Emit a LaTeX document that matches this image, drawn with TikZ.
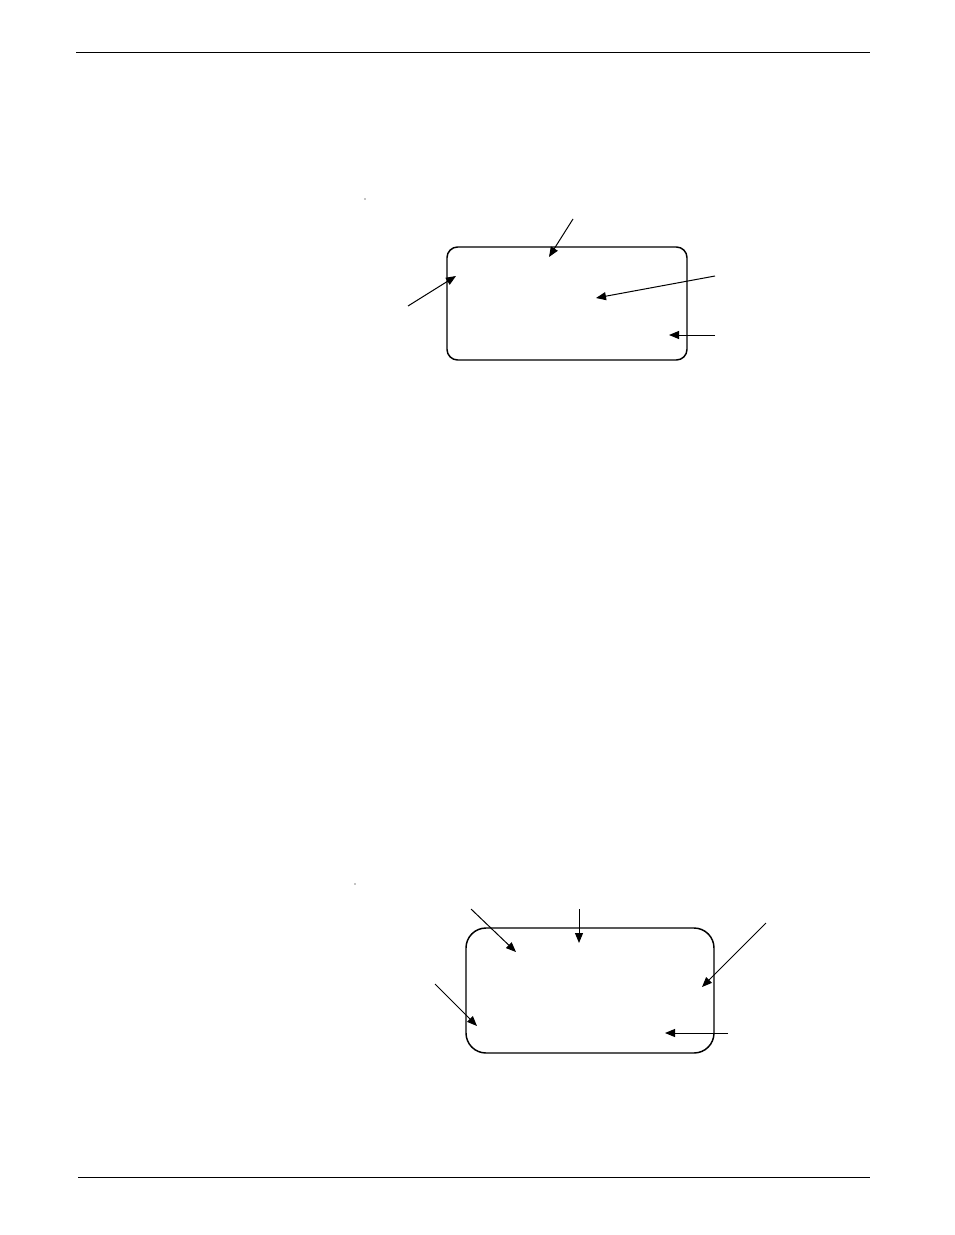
\documentclass[tikz,border=0pt]{standalone}
\usetikzlibrary{arrows.meta}
\begin{document}
\begin{tikzpicture}[x=0.75pt,y=-0.75pt,
  frame/.style={draw=black,line width=1.1pt,inner sep=0pt},
  ptr/.style={draw=black,line width=0.75pt,-{Triangle[length=7.5pt,width=6pt]}},
  rule/.style={draw=black,line width=1pt}]
\useasboundingbox (0,0) rectangle (954,1235);
% page rules
\coordinate (t1) at (76,52.5);
\coordinate (t2) at (870,52.5);
\coordinate (b1) at (78,1177.5);
\coordinate (b2) at (870,1177.5);
\draw[rule] (t1) -- (t2);
\draw[rule] (b1) -- (b2);
% tiny dots
\fill (365,199) circle (0.4pt);
\fill (355,884) circle (0.4pt);
% top box
\node[frame,rounded corners=8pt,minimum width=240*0.75pt,minimum height=113*0.75pt] (boxA) at (567,303.5) {};
\coordinate (a1s) at (573,219); \coordinate (a1e) at (549,257);
\coordinate (a2s) at (408,306); \coordinate (a2e) at (456,276);
\coordinate (a3s) at (715,276); \coordinate (a3e) at (596,298);
\coordinate (a4s) at (715,335); \coordinate (a4e) at (669,335);
\draw[ptr] (a1s) -- (a1e);
\draw[ptr] (a2s) -- (a2e);
\draw[ptr] (a3s) -- (a3e);
\draw[ptr] (a4s) -- (a4e);
% bottom box
\node[frame,rounded corners=15pt,minimum width=248*0.75pt,minimum height=125*0.75pt] (boxB) at (590,990.5) {};
\coordinate (b1s) at (471,909); \coordinate (b1e) at (516,952);
\coordinate (b2s) at (579,909); \coordinate (b2e) at (579,943);
\coordinate (b3s) at (766,923); \coordinate (b3e) at (702,987);
\coordinate (b4s) at (435,984); \coordinate (b4e) at (477,1026);
\coordinate (b5s) at (728,1033); \coordinate (b5e) at (665,1033);
\draw[ptr] (b1s) -- (b1e);
\draw[ptr] (b2s) -- (b2e);
\draw[ptr] (b3s) -- (b3e);
\draw[ptr] (b4s) -- (b4e);
\draw[ptr] (b5s) -- (b5e);
\end{tikzpicture}
\end{document}
